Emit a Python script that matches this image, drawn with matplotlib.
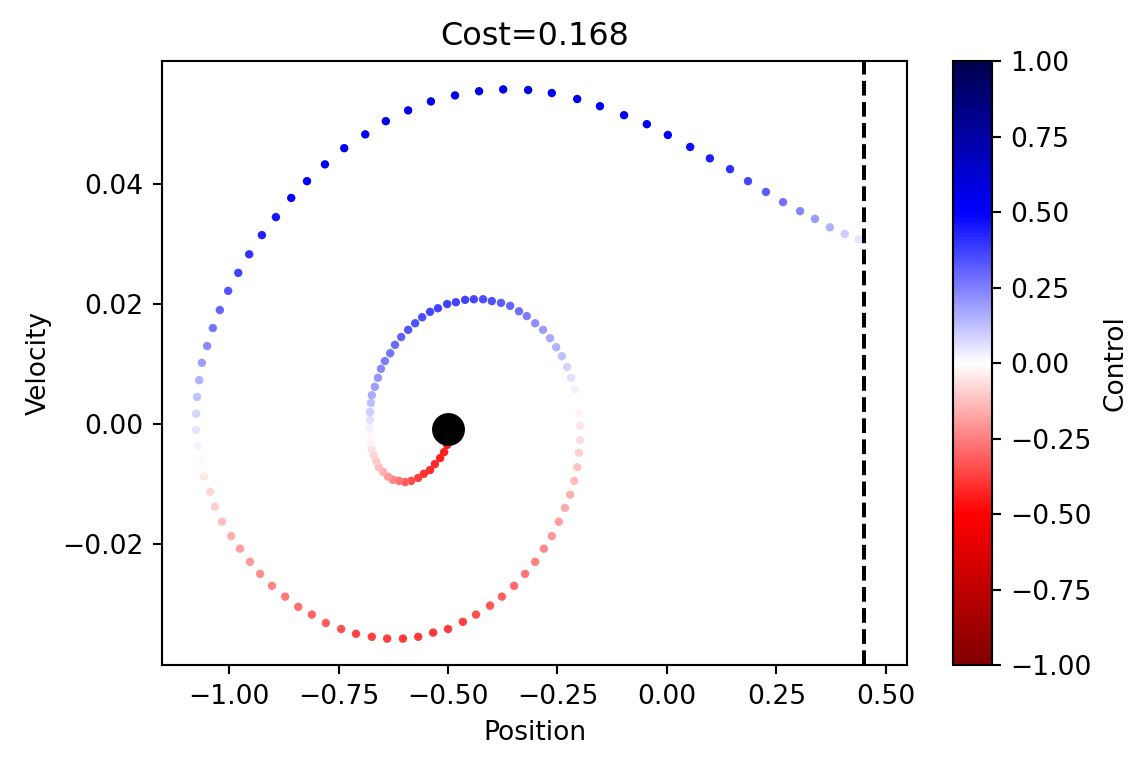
import numpy as np
import matplotlib
matplotlib.use('Agg')
import matplotlib.pyplot as plt

# inner start curve (red), inner loop, outer bottom, outer top
pos_a = [-0.495, -0.498, -0.502, -0.509, -0.518, -0.530, -0.541, -0.555, -0.568, -0.584, -0.598,
         -0.612, -0.626, -0.637, -0.648, -0.658, -0.664, -0.669, -0.674, -0.676, -0.676]
vel_a = [-0.0008, -0.0022, -0.0035, -0.0047, -0.0057, -0.0067, -0.0077, -0.0083, -0.0090, -0.0095, -0.0097,
         -0.0095, -0.0093, -0.0088, -0.0080, -0.0072, -0.0062, -0.0052, -0.0042, -0.0030, -0.0020]
ctl_a = [-0.45, -0.45, -0.45, -0.44, -0.43, -0.42, -0.41, -0.4, -0.38, -0.35, -0.32,
         -0.28, -0.24, -0.2, -0.16, -0.13, -0.1, -0.08, -0.06, -0.03, -0.01]

pos_b = [-0.678, -0.678, -0.678, -0.676, -0.674, -0.667, -0.660, -0.653, -0.644, -0.632, -0.621, -0.607,
         -0.591, -0.575, -0.559, -0.541, -0.523, -0.502, -0.482, -0.461, -0.441, -0.420, -0.400, -0.379,
         -0.358, -0.338, -0.320, -0.301, -0.283, -0.267, -0.253, -0.240, -0.228, -0.219, -0.210]
vel_b = [-0.0007, 0.0007, 0.0020, 0.0035, 0.0048, 0.0062, 0.0077, 0.0092, 0.0105, 0.0118, 0.0132, 0.0145,
         0.0157, 0.0168, 0.0178, 0.0187, 0.0193, 0.0200, 0.0203, 0.0207, 0.0208, 0.0208, 0.0205, 0.0202,
         0.0197, 0.0188, 0.0180, 0.0168, 0.0157, 0.0143, 0.0128, 0.0113, 0.0095, 0.0077, 0.0058]
ctl_b = [0.03, 0.06, 0.1, 0.13, 0.16, 0.19, 0.21, 0.23, 0.25, 0.27, 0.29, 0.31, 0.33, 0.34, 0.35, 0.36,
         0.37, 0.37, 0.37, 0.37, 0.36, 0.35, 0.34, 0.32, 0.3, 0.28, 0.25, 0.22, 0.19, 0.17, 0.15, 0.12,
         0.09, 0.06, 0.03]

pos_c = [-0.201, -0.199, -0.199, -0.201, -0.205, -0.212, -0.221, -0.233, -0.247, -0.263, -0.281, -0.301,
         -0.324, -0.349, -0.377, -0.404, -0.436, -0.466, -0.500, -0.534, -0.568, -0.603, -0.639, -0.674,
         -0.710, -0.744, -0.779, -0.811, -0.842, -0.872, -0.902, -0.929, -0.952, -0.975, -0.995, -1.016,
         -1.032, -1.043, -1.057, -1.064]
vel_c = [0.0018, -0.0003, -0.0027, -0.0048, -0.0072, -0.0095, -0.0118, -0.0140, -0.0163, -0.0187, -0.0208,
         -0.0230, -0.0250, -0.0270, -0.0288, -0.0303, -0.0318, -0.0330, -0.0342, -0.0348, -0.0355, -0.0358,
         -0.0358, -0.0355, -0.0350, -0.0342, -0.0332, -0.0318, -0.0305, -0.0288, -0.0270, -0.0250, -0.0230,
         -0.0208, -0.0187, -0.0163, -0.0138, -0.0113, -0.0088, -0.0063]
ctl_c = [-0.02, -0.05, -0.07, -0.09, -0.11, -0.13, -0.15, -0.17, -0.19, -0.21, -0.23, -0.25, -0.27, -0.29,
         -0.31, -0.33, -0.35, -0.37, -0.38, -0.39, -0.39, -0.39, -0.38, -0.37, -0.36, -0.34, -0.32, -0.3,
         -0.28, -0.26, -0.24, -0.22, -0.2, -0.18, -0.16, -0.13, -0.1, -0.08, -0.04, -0.01]

pos_d = [-1.071, -1.075, -1.075, -1.073, -1.068, -1.062, -1.050, -1.037, -1.021, -1.002, -0.979, -0.954,
         -0.925, -0.893, -0.858, -0.822, -0.781, -0.737, -0.689, -0.642, -0.591, -0.539, -0.484, -0.429,
         -0.374, -0.317, -0.263, -0.205, -0.153, -0.098, -0.046, 0.002, 0.053, 0.098, 0.144, 0.185, 0.226,
         0.265, 0.304, 0.338, 0.372, 0.406, 0.438]
vel_d = [-0.0037, -0.0010, 0.0017, 0.0045, 0.0073, 0.0102, 0.0130, 0.0160, 0.0190, 0.0222, 0.0252, 0.0283,
         0.0315, 0.0345, 0.0377, 0.0405, 0.0433, 0.0460, 0.0483, 0.0505, 0.0523, 0.0538, 0.0548, 0.0555,
         0.0558, 0.0557, 0.0552, 0.0542, 0.0530, 0.0515, 0.0500, 0.0482, 0.0462, 0.0443, 0.0425, 0.0405,
         0.0387, 0.0370, 0.0355, 0.0342, 0.0328, 0.0317, 0.0308]
ctl_d = [0.02, 0.05, 0.08, 0.12, 0.15, 0.19, 0.23, 0.27, 0.3, 0.33, 0.37, 0.4, 0.43, 0.46, 0.49, 0.51, 0.53,
         0.54, 0.55, 0.55, 0.56, 0.56, 0.56, 0.56, 0.56, 0.56, 0.55, 0.55, 0.54, 0.53, 0.52, 0.5, 0.47, 0.44,
         0.4, 0.36, 0.32, 0.28, 0.24, 0.2, 0.15, 0.1, 0.05]

start_pos, start_vel = -0.5, -0.0008
goal = 0.45
cost = 0.168

position = np.array(pos_a + pos_b + pos_c + pos_d)
velocity = np.array(vel_a + vel_b + vel_c + vel_d)
control = np.array(ctl_a + ctl_b + ctl_c + ctl_d)

fig = plt.figure(figsize=(6, 4.037), dpi=191)
ax = fig.add_axes([0.1414, 0.1375, 0.650, 0.783])
cax = fig.add_axes([0.8316, 0.1375, 0.034, 0.783])

sc = ax.scatter(position, velocity, c=control, cmap='seismic_r', vmin=-1, vmax=1, s=10, linewidths=0)
ax.scatter([start_pos], [start_vel], c='k', s=130, zorder=3)
ax.axvline(goal, color='k', linestyle='--')
ax.set_xlim(-1.153, 0.548)
ax.set_ylim(-0.0402, 0.0605)
ax.set_xticks([-1.0, -0.75, -0.5, -0.25, 0.0, 0.25, 0.5])
ax.set_yticks([-0.02, 0.0, 0.02, 0.04])
ax.set_xlabel('Position')
ax.set_ylabel('Velocity')
ax.set_title('Cost=%.3f' % cost)

cb = fig.colorbar(sc, cax=cax)
cb.set_ticks(np.arange(-1, 1.01, 0.25))
cb.set_label('Control')

plt.savefig('out.png')
